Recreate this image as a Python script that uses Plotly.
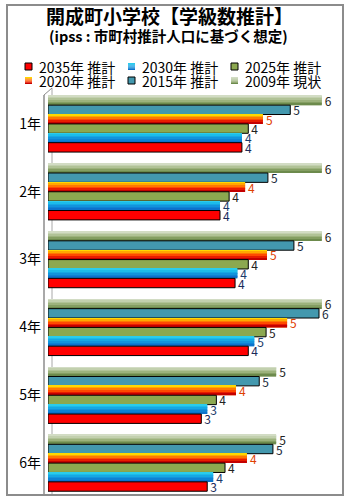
import plotly.graph_objects as go

grades = ["1年", "2年", "3年", "4年", "5年", "6年"]
names = ["2009年 現状", "2015年 推計", "2020年 推計", "2025年 推計", "2030年 推計", "2035年 推計"]
v2009 = [6.00, 6.00, 6.00, 6.00, 5.00, 5.00]
v2015 = [5.31, 4.82, 5.39, 5.94, 4.63, 4.93]
v2020 = [4.71, 4.32, 4.80, 5.24, 4.12, 4.36]
v2025 = [4.39, 3.97, 4.39, 4.78, 3.69, 3.88]
v2030 = [4.25, 3.77, 4.15, 4.52, 3.49, 3.62]
v2035 = [4.25, 3.77, 4.10, 4.39, 3.36, 3.49]
values = [v2009, v2015, v2020, v2025, v2030, v2035]
legend_order = ["2035年 推計", "2030年 推計", "2025年 推計", "2020年 推計", "2015年 推計", "2009年 現状"]

colors = ["#A3B985", "#4398AE", "#FF6A00", "#8CA850", "#1498DE", "#FF0000"]
# top-to-bottom shading bands (None = flat fill)
bands = [
    ["#D2DCC4", "#C2D0AE", "#B0C296", "#9CB27C", "#849E62", "#6C8A4C"],
    None,
    ["#FFD800", "#FFA800", "#FF7800", "#FF4A00", "#E81C00", "#C40000"],
    None,
    ["#2ACCEC", "#1CBCEA", "#16A8E4", "#1294DC", "#0E82D4", "#0C72CC"],
    None,
]
outlines = [0, 1, 0, 1, 0, 1]
text_colors = ["#222222", "#1A2A3A", "#E04000", "#222222", "#1A3A6A", "#1A2A5A"]

FONT = "Noto Sans CJK JP"
W, H = 350, 500
ML, MR, MT, MB = 48, 10, 90, 3
PW, PH = W - ML - MR, H - MT - MB
GROUP = 0.83
BAR = GROUP / len(names)


def px(x):
    return (x - ML) / PW


def py(y):
    return (H - MB - y) / PH


fig = go.Figure()
for k, (name, vals, col, ol, tc) in enumerate(zip(names, values, colors, outlines, text_colors)):
    off = -GROUP / 2 + k * BAR
    fig.add_trace(go.Bar(
        y=grades, x=vals, name=name, orientation="h", offset=off, width=BAR,
        marker=dict(color=col, line=dict(color="#000000", width=ol)),
        texttemplate="%{x:.0f}", textposition="outside",
        textfont=dict(family=FONT, size=12, color=tc),
        constraintext="none", cliponaxis=False, showlegend=False,
    ))
    if bands[k]:
        n = len(bands[k])
        for j, bc in enumerate(bands[k]):
            fig.add_trace(go.Bar(
                y=grades, x=vals, orientation="h", offset=off + j * BAR / n, width=BAR / n,
                marker=dict(color=bc, line=dict(width=0)), showlegend=False,
                hoverinfo="skip", textposition="none",
            ))

shapes = [
    dict(type="rect", xref="paper", yref="paper", x0=px(7), x1=px(343), y0=py(495), y1=py(5),
         line=dict(color="#8C8C8C", width=2), layer="above"),
    dict(type="line", xref="paper", yref="paper", x0=px(44), x1=px(44), y0=py(495), y1=py(95),
         line=dict(color="#8C8C8C", width=1.5), layer="below"),
    dict(type="line", xref="paper", yref="paper", x0=px(52), x1=px(52), y0=py(495), y1=py(88),
         line=dict(color="#A8A8A8", width=1), layer="below"),
    dict(type="line", xref="paper", yref="paper", x0=px(44), x1=px(52), y0=py(95), y1=py(88),
         line=dict(color="#8C8C8C", width=1), layer="below"),
]

annotations = [
    dict(text="<b>開成町小学校【学級数推計】</b>", xref="paper", yref="paper", x=px(169), y=py(16),
         showarrow=False, font=dict(family=FONT, size=19, color="#000000"), xanchor="center", yanchor="middle"),
    dict(text="<b>(ipss : 市町村推計人口に基づく想定)</b>", xref="paper", yref="paper", x=px(168), y=py(35),
         showarrow=False, font=dict(family=FONT, size=14.5, color="#000000"), xanchor="center", yanchor="middle"),
]

col_x = [25, 128, 231]
row_y = [66.5, 80.5]
for i, lname in enumerate(legend_order):
    k = names.index(lname)
    cx = col_x[i % 3]
    cy = row_y[i // 3]
    if bands[k]:
        n = len(bands[k])
        for j, bc in enumerate(bands[k]):
            shapes.append(dict(type="rect", xref="paper", yref="paper", x0=px(cx), x1=px(cx + 7),
                               y0=py(cy - 3.5 + (j + 1) * 7 / n), y1=py(cy - 3.5 + j * 7 / n),
                               fillcolor=bc, line=dict(width=0)))
    else:
        shapes.append(dict(type="rect", xref="paper", yref="paper", x0=px(cx), x1=px(cx + 7),
                           y0=py(cy + 3.5), y1=py(cy - 3.5), fillcolor=colors[k],
                           line=dict(color="#000000", width=1 if outlines[k] else 0)))
    annotations.append(dict(text=lname, xref="paper", yref="paper", x=px(cx + 12), y=py(cy),
                            showarrow=False, xanchor="left", yanchor="middle",
                            font=dict(family=FONT, size=14, color="#000000")))

fig.update_layout(
    width=W, height=H, margin=dict(l=ML, r=MR, t=MT, b=MB),
    paper_bgcolor="#FFFFFF", plot_bgcolor="rgba(0,0,0,0)",
    barmode="overlay",
    font=dict(family=FONT, color="#000000"),
    xaxis=dict(range=[0, 6.4], visible=False, fixedrange=True),
    yaxis=dict(type="category", autorange="reversed", showline=False, ticks="",
               ticklabelstandoff=6, showgrid=False, zeroline=False,
               tickfont=dict(family=FONT, size=14, color="#000000")),
    shapes=shapes, annotations=annotations,
)

fig.write_html("out.html")
